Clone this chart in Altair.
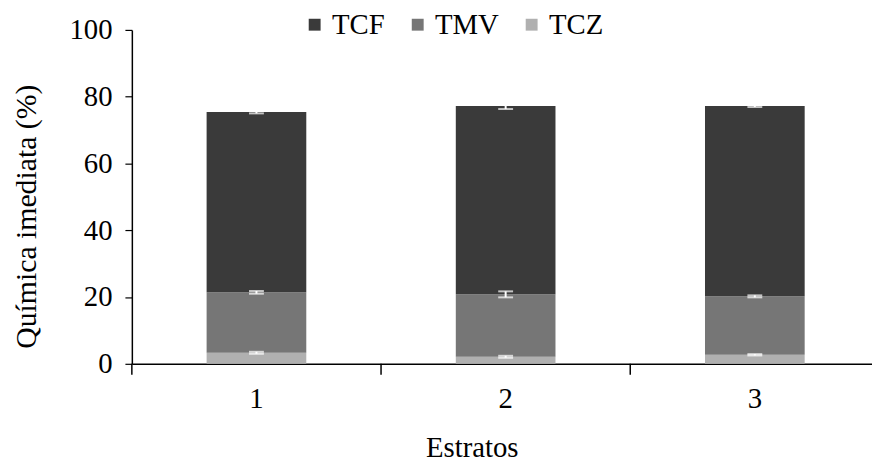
import altair as alt
import pandas as pd

estratos = ["1", "2", "3"]
componentes = ["TCF", "TMV", "TCZ"]
cores = ["#3a3a3a", "#767676", "#b0b0b0"]

tcz = [3.3, 2.1, 2.7]
tmv = [18.1, 18.7, 17.5]
tcf = [54.0, 56.4, 57.0]
err_tcz = [0.3, 0.3, 0.2]
err_tmv = [0.4, 0.9, 0.3]
err_tcf = [0.4, 0.9, 0.3]

rows = []
for i, e in enumerate(estratos):
    cum = 0.0
    for ordem, (comp, vals, errs) in enumerate(
        [("TCZ", tcz, err_tcz), ("TMV", tmv, err_tmv), ("TCF", tcf, err_tcf)]
    ):
        cum += vals[i]
        rows.append({
            "estrato": e, "comp": comp, "value": vals[i], "ord": ordem,
            "top": cum, "lo": cum - errs[i], "hi": cum + errs[i],
        })
df = pd.DataFrame(rows)

FONT = "Times New Roman"
FS = 29
W, H = 747, 337
YT = "Química imediata (%)"
XT = "Estratos"

xscale = alt.Scale(domain=estratos, range=[0, 754.5], paddingInner=0, paddingOuter=0)
yscale = alt.Scale(domain=[0, 100], nice=False)

bars = alt.Chart(df).mark_bar(width=alt.RelativeBandSize(0.4)).encode(
    x=alt.X("estrato:N", scale=xscale, title=XT, axis=alt.Axis(
        labelAngle=0, ticks=False, tickSize=0, domainColor="black",
        domainWidth=1.5, labelFont=FONT, labelFontSize=FS, labelColor="black",
        labelPadding=21, titleFont=FONT, titleFontSize=FS, titleFontWeight="normal",
        titleColor="black", titleX=343, titleY=94, titleBaseline="alphabetic")),
    y=alt.Y("value:Q", stack="zero", scale=yscale, title=YT, axis=alt.Axis(
        values=[0, 20, 40, 60, 80, 100], grid=False,
        domainColor="black", domainWidth=1.5, tickColor="black", tickSize=7, tickWidth=1.2,
        labelFont=FONT, labelFontSize=FS, labelColor="black", labelPadding=13,
        titleFont=FONT, titleFontSize=30, titleFontWeight="normal", titleColor="black",
        titlePadding=28, titleY=188, titleAlign="center")),
    color=alt.Color("comp:N", scale=alt.Scale(domain=componentes, range=cores),
                    legend=alt.Legend(title=None, orient="none", direction="horizontal",
                                      legendX=170, legendY=-20, symbolType="square",
                                      symbolSize=144, symbolStrokeWidth=0, labelFont=FONT,
                                      labelFontSize=FS, labelColor="black", labelOffset=3,
                                      columnPadding=18, padding=0)),
    order=alt.Order("ord:Q", sort="ascending"),
)

rules = alt.Chart(df).mark_rule(color="white", strokeWidth=2).encode(
    x=alt.X("estrato:N", scale=xscale, title=XT),
    y=alt.Y("lo:Q", scale=yscale, title=YT),
    y2="hi:Q",
)
caps_lo = alt.Chart(df).mark_tick(color="white", thickness=2, size=15).encode(
    x=alt.X("estrato:N", scale=xscale, title=XT),
    y=alt.Y("lo:Q", scale=yscale, title=YT),
)
caps_hi = alt.Chart(df).mark_tick(color="white", thickness=2, size=15).encode(
    x=alt.X("estrato:N", scale=xscale, title=XT),
    y=alt.Y("hi:Q", scale=yscale, title=YT),
)

xticks = alt.Chart(pd.DataFrame({"estrato": estratos})).mark_rule(
    color="black", strokeWidth=1.5).encode(
    x=alt.X("estrato:N", scale=xscale, title=XT, bandPosition=0),
    y=alt.value(H),
    y2=alt.value(H + 11),
)

chart = alt.layer(bars, rules, caps_lo, caps_hi, xticks).properties(
    width=W, height=H,
    background="white",
    autosize=alt.AutoSizeParams(type="none"),
    padding={"left": 125, "top": 20, "right": 0, "bottom": 98},
).configure_view(stroke=None)

chart.save("out.html", embed_options={"renderer": "svg", "actions": False})
